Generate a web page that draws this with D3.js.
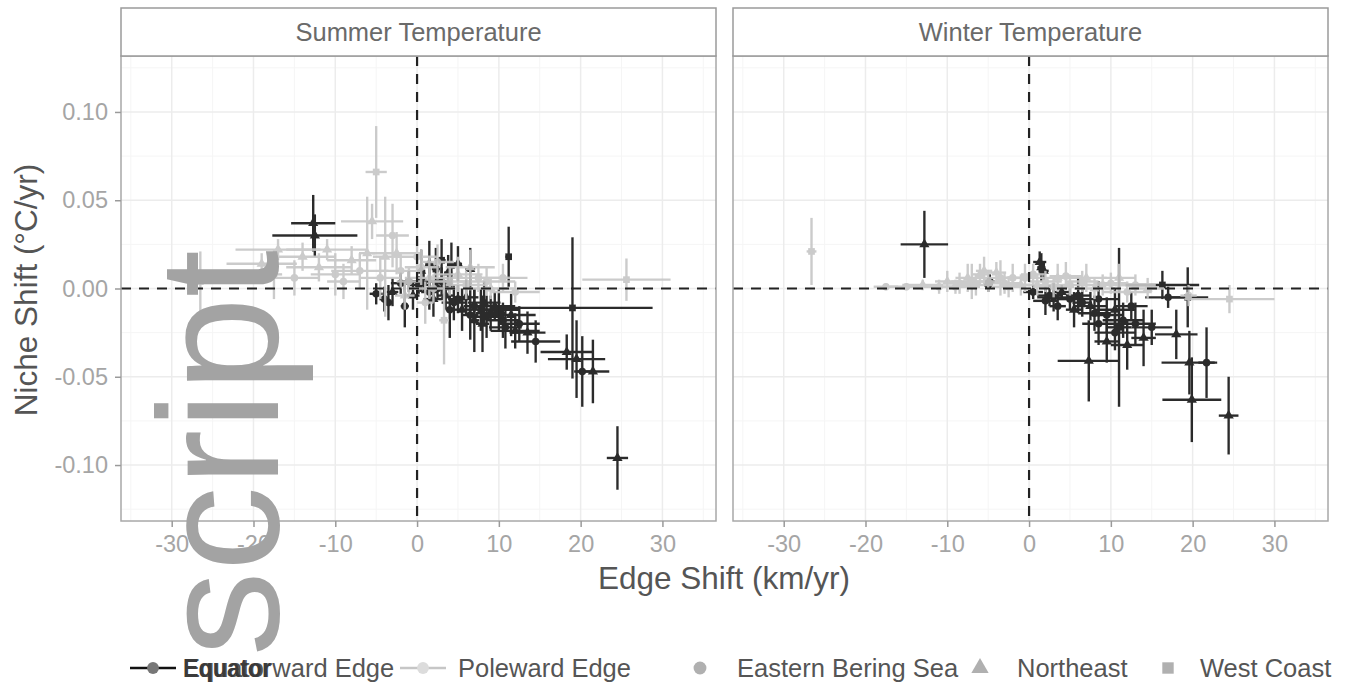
<!DOCTYPE html>
<html>
<head>
<meta charset="utf-8">
<script src="https://cdn.jsdelivr.net/npm/d3@7/dist/d3.min.js"></script>
<style>
  body { margin: 0; background: #fff; }
  text { font-family: "Liberation Sans", Arial, sans-serif; }
</style>
</head>
<body>
<svg id="chart" width="1346" height="691"></svg>
<script>
// rows: [edge shift (km/yr), niche shift (C/yr), edge se, niche se, region]
var summerEquatorward = [
  [-12.7, 0.037, 2.7, 0.016, "NE"], [-12.5, 0.030, 5.2, 0.012, "NE"],
  [-5.0, -0.003, 0.8, 0.006, "EBS"], [-4.0, -0.006, 0.6, 0.007, "EBS"],
  [-3.5, -0.008, 0.5, 0.010, "EBS"], [-3.0, -0.002, 0.7, 0.008, "NE"],
  [-2.0, 0.003, 1.2, 0.006, "EBS"], [-1.5, -0.010, 0.5, 0.012, "EBS"],
  [-1.0, 0.004, 1.0, 0.006, "EBS"], [-0.5, -0.004, 0.8, 0.008, "NE"],
  [0.2, 0.002, 1.2, 0.005, "EBS"], [0.8, 0.004, 1.5, 0.006, "EBS"],
  [0.5, 0.010, 0.5, 0.012, "NE"], [1.5, 0.014, 0.5, 0.013, "NE"],
  [2.3, 0.011, 0.5, 0.012, "WC"], [1.5, -0.002, 1.0, 0.010, "EBS"],
  [2.0, -0.006, 1.2, 0.010, "NE"], [2.5, 0.000, 1.5, 0.006, "EBS"],
  [3.0, 0.004, 1.0, 0.008, "EBS"], [3.0, 0.016, 0.5, 0.012, "WC"],
  [3.5, -0.004, 1.0, 0.008, "NE"], [3.8, 0.009, 0.5, 0.010, "NE"],
  [4.2, 0.013, 0.5, 0.013, "WC"], [4.0, -0.012, 0.5, 0.016, "EBS"],
  [4.5, -0.008, 1.5, 0.010, "EBS"], [5.0, -0.006, 1.2, 0.008, "EBS"],
  [5.0, 0.014, 0.5, 0.010, "NE"], [5.5, -0.012, 1.2, 0.012, "NE"],
  [6.0, -0.005, 1.5, 0.010, "NE"], [6.5, 0.011, 0.6, 0.012, "NE"],
  [6.5, -0.015, 1.0, 0.014, "EBS"], [7.0, -0.010, 1.3, 0.010, "EBS"],
  [7.0, -0.018, 0.6, 0.018, "NE"], [7.8, -0.012, 1.5, 0.012, "EBS"],
  [8.0, -0.020, 0.8, 0.016, "NE"], [8.2, -0.008, 2.0, 0.012, "NE"],
  [8.5, -0.016, 2.0, 0.012, "EBS"], [9.0, -0.014, 1.8, 0.010, "EBS"],
  [9.5, -0.010, 2.5, 0.008, "NE"], [10.0, -0.012, 2.5, 0.012, "NE"],
  [10.5, -0.018, 2.0, 0.010, "EBS"], [10.8, -0.022, 2.0, 0.012, "EBS"],
  [11.2, 0.018, 0.4, 0.017, "WC"], [11.5, -0.015, 3.0, 0.012, "NE"],
  [12.0, -0.024, 3.0, 0.010, "NE"], [12.5, -0.020, 2.5, 0.010, "EBS"],
  [13.5, -0.025, 2.2, 0.012, "NE"], [14.5, -0.030, 3.0, 0.012, "EBS"],
  [18.3, -0.036, 3.2, 0.010, "NE"], [19.0, -0.011, 9.8, 0.040, "WC"],
  [19.5, -0.040, 3.5, 0.022, "NE"], [20.2, -0.047, 1.0, 0.020, "EBS"],
  [21.5, -0.047, 2.0, 0.018, "NE"], [24.5, -0.096, 1.3, 0.018, "NE"]
];
var summerPoleward = [
  [-26.5, 0.004, 0.6, 0.017, "WC"], [-19.0, 0.014, 4.3, 0.006, "NE"],
  [-17.0, 0.022, 5.2, 0.006, "NE"], [-17.5, 0.008, 1.0, 0.014, "EBS"],
  [-15.0, 0.006, 3.0, 0.010, "EBS"], [-14.0, 0.018, 4.0, 0.008, "NE"],
  [-12.0, 0.012, 4.0, 0.008, "NE"], [-11.0, 0.022, 5.0, 0.006, "NE"],
  [-10.0, 0.008, 3.0, 0.012, "EBS"], [-9.0, 0.004, 2.0, 0.010, "EBS"],
  [-8.0, 0.016, 3.0, 0.008, "NE"], [-7.0, 0.010, 3.5, 0.010, "EBS"],
  [-6.1, 0.020, 1.0, 0.032, "NE"], [-5.5, 0.038, 3.8, 0.010, "NE"],
  [-5.0, 0.066, 1.3, 0.026, "WC"], [-4.5, 0.006, 2.5, 0.012, "EBS"],
  [-3.9, 0.018, 1.5, 0.034, "NE"], [-3.0, 0.030, 2.0, 0.018, "EBS"],
  [-2.5, 0.020, 3.0, 0.012, "NE"], [-2.0, 0.010, 2.5, 0.010, "EBS"],
  [-1.0, 0.004, 1.5, 0.008, "EBS"], [-1.5, -0.004, 1.2, 0.008, "NE"],
  [0.0, 0.018, 2.5, 0.010, "EBS"], [0.5, 0.012, 2.0, 0.010, "EBS"],
  [1.0, -0.008, 1.0, 0.012, "EBS"], [1.5, 0.006, 3.0, 0.012, "NE"],
  [2.0, 0.000, 3.0, 0.008, "EBS"], [2.5, 0.015, 2.0, 0.010, "EBS"],
  [3.3, -0.018, 0.6, 0.025, "WC"], [4.0, 0.004, 2.5, 0.008, "EBS"],
  [5.0, 0.008, 3.0, 0.010, "NE"], [6.0, 0.002, 2.5, 0.008, "EBS"],
  [6.5, 0.012, 3.0, 0.010, "NE"], [7.5, 0.006, 4.0, 0.008, "EBS"],
  [8.5, 0.004, 3.5, 0.008, "EBS"], [9.0, 0.000, 3.0, 0.006, "NE"],
  [10.5, 0.006, 3.0, 0.008, "EBS"], [12.0, -0.002, 3.0, 0.006, "EBS"],
  [25.6, 0.005, 5.4, 0.012, "WC"]
];
var winterEquatorward = [
  [-12.8, 0.025, 2.9, 0.019, "NE"], [-5.0, 0.002, 0.5, 0.004, "EBS"],
  [-4.8, 0.004, 0.6, 0.004, "EBS"], [0.5, -0.002, 1.2, 0.004, "EBS"],
  [1.3, 0.015, 0.8, 0.006, "NE"], [1.5, 0.012, 0.5, 0.008, "NE"],
  [1.8, 0.010, 0.6, 0.005, "NE"], [2.0, -0.007, 1.5, 0.008, "EBS"],
  [2.5, -0.004, 1.5, 0.006, "EBS"], [3.0, -0.005, 2.0, 0.008, "EBS"],
  [3.5, -0.010, 1.0, 0.008, "EBS"], [4.0, -0.002, 1.0, 0.004, "NE"],
  [5.0, -0.006, 1.5, 0.006, "EBS"], [5.5, -0.012, 1.0, 0.010, "NE"],
  [6.0, -0.004, 1.5, 0.010, "EBS"], [6.5, -0.008, 1.2, 0.008, "EBS"],
  [7.5, -0.010, 2.0, 0.008, "NE"], [8.0, -0.014, 2.0, 0.010, "EBS"],
  [8.5, -0.006, 2.5, 0.010, "EBS"], [9.5, -0.015, 2.0, 0.010, "EBS"],
  [10.5, -0.012, 2.5, 0.012, "NE"], [11.5, -0.018, 2.5, 0.010, "EBS"],
  [12.5, -0.010, 2.0, 0.008, "EBS"], [7.3, -0.041, 3.8, 0.023, "NE"],
  [11.0, -0.022, 1.5, 0.045, "WC"], [8.5, -0.020, 2.0, 0.012, "EBS"],
  [9.5, -0.030, 1.5, 0.012, "NE"], [10.5, -0.025, 2.5, 0.010, "EBS"],
  [12.0, -0.032, 2.0, 0.014, "NE"], [13.0, -0.020, 2.5, 0.012, "EBS"],
  [14.0, -0.028, 1.5, 0.016, "NE"], [15.0, -0.022, 2.5, 0.010, "EBS"],
  [16.3, 0.002, 4.5, 0.008, "WC"], [17.0, -0.005, 2.8, 0.006, "EBS"],
  [18.0, -0.026, 2.6, 0.014, "NE"], [19.4, -0.005, 2.5, 0.017, "WC"],
  [19.6, -0.042, 3.4, 0.018, "NE"], [19.9, -0.063, 3.6, 0.024, "NE"],
  [21.7, -0.042, 1.0, 0.020, "EBS"], [24.4, -0.072, 1.2, 0.022, "NE"]
];
var winterPoleward = [
  [-26.6, 0.021, 0.6, 0.019, "WC"], [-17.5, 0.001, 1.5, 0.002, "EBS"],
  [-15.0, 0.001, 2.0, 0.002, "EBS"], [-13.0, 0.002, 2.5, 0.003, "NE"],
  [-11.0, 0.001, 2.0, 0.004, "EBS"], [-10.0, 0.004, 1.5, 0.006, "NE"],
  [-9.0, 0.001, 3.0, 0.004, "EBS"], [-8.5, 0.003, 2.0, 0.006, "EBS"],
  [-7.5, 0.006, 1.5, 0.008, "NE"], [-7.0, 0.004, 2.5, 0.010, "EBS"],
  [-6.5, 0.002, 2.0, 0.006, "EBS"], [-6.0, 0.008, 1.0, 0.006, "NE"],
  [-5.5, 0.010, 1.0, 0.008, "NE"], [-5.0, 0.004, 1.5, 0.006, "EBS"],
  [-4.0, 0.009, 1.2, 0.006, "NE"], [-3.5, 0.006, 2.5, 0.010, "EBS"],
  [-3.0, 0.003, 2.0, 0.006, "EBS"], [-2.5, 0.001, 2.0, 0.006, "EBS"],
  [-2.0, 0.006, 1.5, 0.008, "EBS"], [-1.0, 0.002, 2.0, 0.006, "NE"],
  [-0.5, 0.006, 2.5, 0.008, "EBS"], [0.5, 0.008, 1.5, 0.006, "EBS"],
  [1.0, 0.002, 2.0, 0.006, "NE"], [2.0, 0.004, 2.0, 0.006, "EBS"],
  [3.0, 0.001, 2.5, 0.006, "EBS"], [3.5, 0.006, 2.0, 0.008, "NE"],
  [4.5, 0.007, 2.0, 0.008, "EBS"], [5.0, 0.002, 2.5, 0.006, "EBS"],
  [6.5, 0.004, 2.0, 0.006, "EBS"], [7.0, 0.006, 2.5, 0.008, "NE"],
  [8.0, 0.000, 2.5, 0.006, "NE"], [9.0, 0.002, 3.0, 0.006, "EBS"],
  [10.0, 0.003, 2.0, 0.006, "EBS"], [11.0, 0.006, 2.0, 0.008, "NE"],
  [12.0, -0.002, 3.0, 0.006, "EBS"], [13.0, 0.002, 2.5, 0.006, "EBS"],
  [14.5, 0.000, 2.0, 0.006, "NE"], [19.5, -0.004, 1.0, 0.006, "EBS"],
  [24.5, -0.006, 5.5, 0.008, "WC"]
];

var facetNames = ["Summer Temperature", "Winter Temperature"];
var edgeNames = ["Equatorward Edge", "Poleward Edge"];
var regionNames = ["Eastern Bering Sea", "Northeast", "West Coast"];
var regionCodes = ["EBS", "NE", "WC"];
var xTicks = [-30, -20, -10, 0, 10, 20, 30];
var xMinor = [-35, -25, -15, -5, 5, 15, 25, 35];
var yTicks = [-0.10, -0.05, 0, 0.05, 0.10];
var yMinor = [-0.125, -0.075, -0.025, 0.025, 0.075, 0.125];

//layout
var svg = d3.select("#chart");
var panelTop = 56, panelBottom = 521, stripTop = 8, panelWidth = 595;
var panelLefts = [121, 733];
var edgeColour = d3.scaleOrdinal().domain(edgeNames).range(["#111111", "#c6c6c6"]);
var regionShape = d3.scaleOrdinal().domain(regionCodes)
    .range([d3.symbolCircle, d3.symbolTriangle, d3.symbolSquare]);

var y = d3.scaleLinear().domain([-0.1317, 0.1317]).range([panelBottom, panelTop]);

var panelData = [[summerEquatorward, summerPoleward], [winterEquatorward, winterPoleward]];

//soft edges like the scanned figure
var blur = svg.append("defs").append("filter").attr("id", "soft");
blur.append("feGaussianBlur").attr("stdDeviation", 0.6);

panelLefts.forEach(function(left, i) {
    var x = d3.scaleLinear().domain([-36.2, 36.55]).range([left, left + panelWidth]);
    var g = svg.append("g");

    svg.append("clipPath").attr("id", "clip" + i)
        .append("rect").attr("x", left).attr("y", panelTop)
        .attr("width", panelWidth).attr("height", panelBottom - panelTop);

    // grid
    g.selectAll(".vminor").data(xMinor).enter().append("line")
        .attr("x1", d => x(d)).attr("x2", d => x(d))
        .attr("y1", panelTop).attr("y2", panelBottom)
        .attr("stroke", "#f5f5f5").attr("stroke-width", 1);
    g.selectAll(".hminor").data(yMinor).enter().append("line")
        .attr("x1", left).attr("x2", left + panelWidth)
        .attr("y1", d => y(d)).attr("y2", d => y(d))
        .attr("stroke", "#f5f5f5").attr("stroke-width", 1);
    g.selectAll(".vmajor").data(xTicks).enter().append("line")
        .attr("x1", d => x(d)).attr("x2", d => x(d))
        .attr("y1", panelTop).attr("y2", panelBottom)
        .attr("stroke", "#ececec").attr("stroke-width", 1.5);
    g.selectAll(".hmajor").data(yTicks).enter().append("line")
        .attr("x1", left).attr("x2", left + panelWidth)
        .attr("y1", d => y(d)).attr("y2", d => y(d))
        .attr("stroke", "#ececec").attr("stroke-width", 1.5);

    // error bars and points
    var marks = g.append("g").attr("clip-path", "url(#clip" + i + ")")
        .append("g").attr("filter", "url(#soft)");
    panelData[i].forEach(function(rows, k) {
        var col = edgeColour(edgeNames[k]);
        var op = k === 0 ? 0.88 : 0.9;
        var grp = marks.append("g").attr("opacity", op);
        grp.selectAll(".xbar").data(rows).enter().append("line")
            .attr("x1", d => x(d[0] - d[2])).attr("x2", d => x(d[0] + d[2]))
            .attr("y1", d => y(d[1])).attr("y2", d => y(d[1]))
            .attr("stroke", col).attr("stroke-width", 2.4);
        grp.selectAll(".ybar").data(rows).enter().append("line")
            .attr("x1", d => x(d[0])).attr("x2", d => x(d[0]))
            .attr("y1", d => y(d[1] - d[3])).attr("y2", d => y(d[1] + d[3]))
            .attr("stroke", col).attr("stroke-width", 2.4);
        grp.selectAll(".pt").data(rows).enter().append("path")
            .attr("transform", d => "translate(" + x(d[0]) + "," + y(d[1]) + ")")
            .attr("d", d => d3.symbol().type(regionShape(d[4])).size(45)())
            .attr("fill", col);
    });

    // dashed reference lines
    g.append("line").attr("x1", left).attr("x2", left + panelWidth)
        .attr("y1", y(0)).attr("y2", y(0))
        .attr("stroke", "#222").attr("stroke-width", 2.2).attr("stroke-dasharray", "10,8");
    g.append("line").attr("x1", x(0)).attr("x2", x(0))
        .attr("y1", panelTop).attr("y2", panelBottom)
        .attr("stroke", "#222").attr("stroke-width", 2.2).attr("stroke-dasharray", "10,8");

    // panel border and strip
    g.append("rect").attr("x", left).attr("y", panelTop)
        .attr("width", panelWidth).attr("height", panelBottom - panelTop)
        .attr("fill", "none").attr("stroke", "#a8a8a8").attr("stroke-width", 1.5);
    g.append("rect").attr("x", left).attr("y", stripTop)
        .attr("width", panelWidth).attr("height", panelTop - stripTop)
        .attr("fill", "#fff").attr("stroke", "#9a9a9a").attr("stroke-width", 1.5);
    g.append("text").attr("x", left + panelWidth / 2).attr("y", 41)
        .attr("text-anchor", "middle").attr("font-size", 25.5).attr("fill", "#6a6a6a")
        .text(facetNames[i]);

    // x axis
    var xAxis = g.append("g").attr("transform", "translate(0," + panelBottom + ")")
        .call(d3.axisBottom(x).tickValues(xTicks).tickSize(6).tickPadding(8).tickFormat(d => String(d)));
    xAxis.select(".domain").remove();
    xAxis.selectAll(".tick line").attr("stroke", "#9a9a9a").attr("stroke-width", 1.5);
    xAxis.selectAll(".tick text").attr("font-size", 23.5).attr("fill", "#a5a5a5")
        .attr("font-family", "Liberation Sans, Arial, sans-serif");

    if (i === 0) {
        var yAxis = g.append("g").attr("transform", "translate(" + left + ",0)")
            .call(d3.axisLeft(y).tickValues(yTicks).tickSize(6).tickPadding(7).tickFormat(d => d.toFixed(2)));
        yAxis.select(".domain").remove();
        yAxis.selectAll(".tick line").attr("stroke", "#9a9a9a").attr("stroke-width", 1.5);
        yAxis.selectAll(".tick text").attr("font-size", 23.5).attr("fill", "#a5a5a5")
            .attr("font-family", "Liberation Sans, Arial, sans-serif");
    }
});

// axis titles
svg.append("text").attr("x", 724).attr("y", 589).attr("text-anchor", "middle")
    .attr("font-size", 31.5).attr("fill", "#555").text("Edge Shift (km/yr)");
svg.append("text").attr("transform", "translate(37,290) rotate(-90)")
    .attr("text-anchor", "middle").attr("font-size", 31.5).attr("fill", "#555")
    .text("Niche Shift (\u00B0C/yr)");

// legend
var legendY = 668;
var edgeKeys = [{x: 130, tx: 183}, {x: 400, tx: 458}];
edgeNames.forEach(function(name, k) {
    var lg = svg.append("g");
    lg.append("line").attr("x1", edgeKeys[k].x).attr("x2", edgeKeys[k].x + 46)
        .attr("y1", legendY).attr("y2", legendY)
        .attr("stroke", edgeColour(name)).attr("stroke-width", 2.5);
    lg.append("path").attr("transform", "translate(" + (edgeKeys[k].x + 23) + "," + legendY + ")")
        .attr("d", d3.symbol().type(d3.symbolCircle).size(110)())
        .attr("fill", k === 0 ? "#777" : "#dcdcdc");
    lg.append("text").attr("x", edgeKeys[k].tx).attr("y", legendY + 9)
        .attr("font-size", 25.5).attr("fill", "#555").text(name);
});
// overprinted word in the reference legend
svg.append("text").attr("x", 183).attr("y", legendY + 9)
    .attr("font-size", 25.5).attr("font-weight", "bold").attr("fill", "#3a3a3a")
    .attr("textLength", 88).attr("lengthAdjust", "spacingAndGlyphs").text("Equator");

var shapeKeys = [{x: 700, tx: 737}, {x: 980, tx: 1017}, {x: 1168, tx: 1200}];
regionNames.forEach(function(name, k) {
    svg.append("path").attr("transform", "translate(" + shapeKeys[k].x + "," + legendY + ")")
        .attr("d", d3.symbol().type(regionShape(regionCodes[k])).size(130)())
        .attr("fill", "#b0b0b0");
    svg.append("text").attr("x", shapeKeys[k].tx).attr("y", legendY + 9)
        .attr("font-size", 25.5).attr("fill", "#555").text(name);
});

// watermark over the figure
svg.append("text").attr("transform", "translate(278,250) rotate(-90)")
    .attr("text-anchor", "end").attr("font-size", 170).attr("fill", "#a3a3a3")
    .text("script");
</script>
</body>
</html>
